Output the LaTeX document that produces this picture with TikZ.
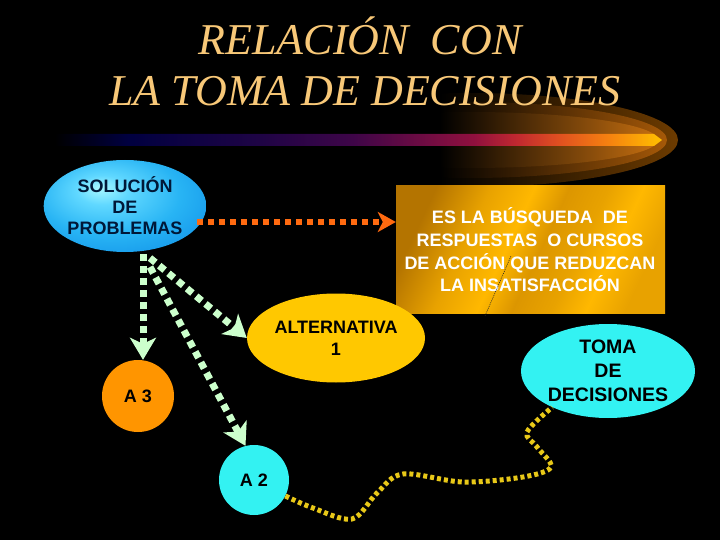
\documentclass[tikz,border=0pt]{standalone}
\usepackage{fontspec}
\setmainfont{Liberation Serif}
\newfontfamily\arial{Liberation Sans}
\usetikzlibrary{shapes.geometric,arrows.meta}

\definecolor{titlec}{HTML}{F8C878}
\definecolor{bar1}{HTML}{000040}
\definecolor{bar2}{HTML}{1E0445}
\definecolor{bar3}{HTML}{3E0548}
\definecolor{bar4}{HTML}{90103E}
\definecolor{bar5}{HTML}{C02830}
\definecolor{bar6}{HTML}{E05020}
\definecolor{bar7}{HTML}{F58010}
\definecolor{bar8}{HTML}{FFC000}
\definecolor{glowA}{HTML}{6E3C00}
\definecolor{glowB}{HTML}{A85A08}
\definecolor{glowC}{HTML}{C87010}
\definecolor{gold1}{HTML}{B47400}
\definecolor{gold2}{HTML}{E8A200}
\definecolor{gold3}{HTML}{FFB800}
\definecolor{gold4}{HTML}{DC9600}
\definecolor{sol1}{HTML}{A8F8FF}
\definecolor{sol2}{HTML}{60D8FF}
\definecolor{sol3}{HTML}{28B4F4}
\definecolor{sol4}{HTML}{1090E8}
\definecolor{solt}{HTML}{001838}
\definecolor{orarr}{HTML}{FF6A10}
\definecolor{grarr}{HTML}{CCFFCC}
\definecolor{altc}{HTML}{FFC800}
\definecolor{a3c}{HTML}{FF9500}
\definecolor{cyanc}{HTML}{33F2F2}
\definecolor{yelc}{HTML}{E8C818}

\pgfdeclarehorizontalshading{barsh}{100bp}{color(0bp)=(black); color(25bp)=(black); color(31bp)=(bar1); color(41.7bp)=(bar2); color(49.5bp)=(bar3); color(59.5bp)=(bar4); color(63bp)=(bar5); color(66.5bp)=(bar6); color(70.5bp)=(bar7); color(75bp)=(bar8); color(100bp)=(bar8)}
\pgfdeclarehorizontalshading{boxgold}{100bp}{color(0bp)=(gold1); color(25bp)=(gold1); color(36bp)=(gold2); color(45bp)=(gold3); color(52bp)=(gold4); color(60bp)=(gold2); color(67bp)=(gold3); color(75bp)=(gold2); color(100bp)=(gold2)}
\pgfdeclareradialshading{solsh}{\pgfpoint{-8bp}{10bp}}{color(0bp)=(sol1); color(8bp)=(sol2); color(22bp)=(sol3); color(38bp)=(sol4); color(60bp)=(sol4)}

\newcommand{\bigsans}{\arial\bfseries\fontsize{18}{21}\selectfont}

\tikzset{
  orarrow/.style={draw=orarr, line width=6pt, dash pattern=on 6pt off 5pt,
    -{Stealth[length=18pt,width=20pt,inset=5pt]}},
  grarrow/.style={draw=grarr, line width=7pt, dash pattern=on 7pt off 5pt,
    -{Stealth[length=22pt,width=26pt,inset=6pt]}},
  yelpath/.style={draw=yelc, line width=5pt, dash pattern=on 4pt off 3pt},
  titletext/.style={text=titlec, font=\itshape\fontsize{44}{50}\selectfont, anchor=base, inner sep=0},
  labeltext/.style={text=solt, font=\bigsans, align=center, inner sep=0}
}

\begin{document}
\begin{tikzpicture}[x=1pt,y=-1pt]
\useasboundingbox (0,0) rectangle (720,540);
\fill[black] (0,0) rectangle (720,540);

% glow
\begin{scope}
  \clip (470,140) ellipse [x radius=208, y radius=47];
  \shade[left color=black, right color=glowA] (440,90) rectangle (680,190);
\end{scope}
\begin{scope}
  \clip (470,140) ellipse [x radius=197, y radius=38];
  \shade[left color=black, right color=glowB] (440,90) rectangle (670,190);
\end{scope}
\begin{scope}
  \clip (470,140) ellipse [x radius=188, y radius=28];
  \shade[left color=black, right color=glowC] (440,90) rectangle (660,190);
\end{scope}

% bar
\shade[shading=barsh] (55,134) -- (654,134) -- (662,140) -- (654,146) -- (55,146) -- cycle;

% title
\node[titletext] (t1) at (360,55) {RELACIÓN\ \ CON};
\node[titletext] (t2) at (365,106) {LA TOMA DE DECISIONES};

% box
\node[rectangle, minimum width=269pt, minimum height=127pt, inner sep=0,
      shade, shading=boxgold, shading angle=-25] (box) at (530.5,249.5) {};
\node[text=white, font=\arial\bfseries\fontsize{18}{22.7}\selectfont, align=center, inner sep=0]
   (boxtext) at (530,250) {ES LA BÚSQUEDA\ \ DE\\RESPUESTAS\ \ O CURSOS\\DE ACCIÓN QUE REDUZCAN\\LA INSATISFACCIÓN};
\coordinate (d1) at (485,316);
\coordinate (d2) at (511,256);
\draw[line width=0.6pt, dash pattern=on 1pt off 1pt, black!85] (d1) -- (d2);

% nodes
\node[ellipse, minimum width=144pt, minimum height=92pt, inner sep=0,
      shade, shading=solsh, labeltext] (sol) at (125,206) {SOLUCIÓN\\DE\\PROBLEMAS};
\node[ellipse, minimum width=178pt, minimum height=89pt, inner sep=0,
      fill=altc, labeltext, text=black, font=\arial\bfseries\fontsize{18}{22}\selectfont] (alt) at (336,338) {ALTERNATIVA\\1};
\node[circle, minimum size=72pt, inner sep=0, fill=a3c, labeltext, text=black] (a3) at (138,396) {A 3};
\node[circle, minimum size=70pt, inner sep=0, fill=cyanc, labeltext, text=black] (a2) at (254,480) {A 2};
\node[ellipse, minimum width=174pt, minimum height=94pt, inner sep=0, fill=cyanc,
      labeltext, text=black, font=\arial\bfseries\fontsize{19.5}{24}\selectfont] (toma) at (608,371) {TOMA\\DE\\DECISIONES};

% connectors
\coordinate (o1) at (197,222);
\draw[orarrow] (o1) -- (box.west |- o1);

\coordinate (g0) at (143,254);
\coordinate (g1) at (150,258);
\coordinate (g2) at (150,267);
\draw[grarrow] (g0) -- (g0 |- a3.north);
\draw[grarrow] (g1) -- (alt.west);
\draw[grarrow] (g2) -- (a2.104);

\coordinate (w1) at (313,508);
\coordinate (w2) at (352,519);
\coordinate (w3) at (377,493);
\coordinate (w4) at (403,474);
\coordinate (w5) at (463,482);
\coordinate (w6) at (523,477);
\coordinate (w7) at (551,467);
\coordinate (w8) at (537,447);
\coordinate (w9) at (527,432);
\draw[yelpath] plot[smooth, tension=0.55] coordinates {(a2.-27) (w1) (w2) (w3) (w4) (w5) (w6) (w7) (w8) (w9) (toma.213)};
\end{tikzpicture}
\end{document}
